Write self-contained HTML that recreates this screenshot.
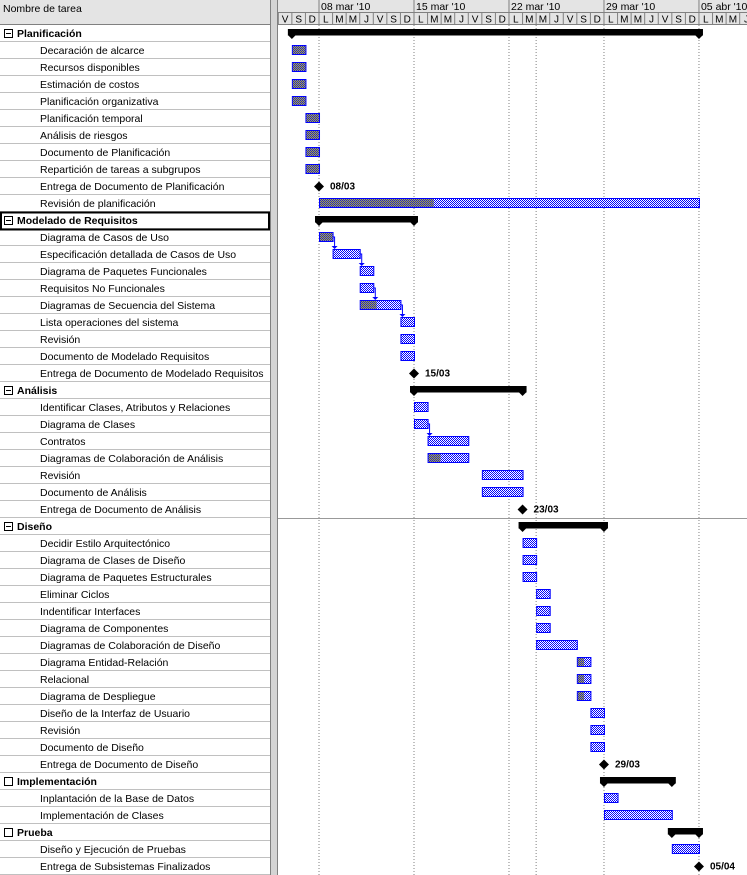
<!DOCTYPE html>
<html><head><meta charset="utf-8"><style>
html,body{margin:0;padding:0;background:#fff;}
svg{display:block;font-family:"Liberation Sans",sans-serif;}
</style></head><body>
<svg id="g" width="747" height="875" xmlns="http://www.w3.org/2000/svg">
<defs>
<pattern id="chk" width="2" height="2" patternUnits="userSpaceOnUse"><rect width="2" height="2" fill="#fff"/><rect width="1" height="1" fill="#0000ff"/><rect x="1" y="1" width="1" height="1" fill="#0000ff"/></pattern>
<pattern id="chkd" width="2" height="2" patternUnits="userSpaceOnUse"><rect width="2" height="2" fill="#909090"/><rect width="1" height="1" fill="#3030a0"/><rect x="1" y="1" width="1" height="1" fill="#505050"/></pattern>
</defs>
</svg>
<script>
const names=["Planificación","Decaración de alcarce","Recursos disponibles","Estimación de costos","Planificación organizativa","Planificación temporal","Análisis de riesgos","Documento de Planificación","Repartición de tareas a subgrupos","Entrega de Documento de Planificación","Revisión de planificación","Modelado de Requisitos","Diagrama de Casos de Uso","Especificación detallada de Casos de Uso","Diagrama de Paquetes Funcionales","Requisitos No Funcionales","Diagramas de Secuencia del Sistema","Lista operaciones del sistema","Revisión","Documento de Modelado Requisitos","Entrega de Documento de Modelado Requisitos","Análisis","Identificar Clases, Atributos y Relaciones","Diagrama de Clases","Contratos","Diagramas de Colaboración de Análisis","Revisión","Documento de Análisis","Entrega de Documento de Análisis","Diseño","Decidir Estilo Arquitectónico","Diagrama de Clases de Diseño","Diagrama de Paquetes Estructurales","Eliminar Ciclos","Indentificar Interfaces","Diagrama de Componentes","Diagramas de Colaboración de Diseño","Diagrama Entidad-Relación","Relacional","Diagrama de Despliegue","Diseño de la Interfaz de Usuario","Revisión","Documento de Diseño","Entrega de Documento de Diseño","Implementación","Inplantación de la Base de Datos","Implementación de Clases","Prueba","Diseño y Ejecución de Pruebas","Entrega de Subsistemas Finalizados"];
const types=["s","t","t","t","t","t","t","t","t","m","t","s","t","t","t","t","t","t","t","t","m","s","t","t","t","t","t","t","m","s","t","t","t","t","t","t","t","t","t","t","t","t","t","m","s","t","t","s","t","m"];
const starts=[1,1,1,1,1,2,2,2,2,3,3,3,3,4,6,6,6,9,9,9,10,10,10,10,11,11,15,15,18,18,18,18,18,19,19,19,19,22,22,22,23,23,23,24,24,24,24,29,29,31];
const ends=[31,2,2,2,2,3,3,3,3,3,31,10,4,6,7,7,9,10,10,10,10,18,11,11,14,14,18,18,18,24,19,19,19,20,20,20,22,23,23,23,24,24,24,24,29,25,29,31,31,31];
const progress=[0,1,1,1,1,1,1,1,1,0,0.3,0,1,0,0,0,0.4,0,0,0,0,0,0,0,0,0.3,0,0,0,0,0,0,0,0,0,0,0,0.5,0.5,0.5,0,0,0,0,0,0,0,0,0,0];
const links=[[12,13],[13,14],[15,16],[16,17],[23,24]];
const milestoneLabels={9:"08/03",20:"15/03",28:"23/03",43:"29/03",49:"05/04"};
const weekLabels=["08 mar '10","15 mar '10","22 mar '10","29 mar '10","05 abr '10"];
const dayLetters=["V","S","D","L","M","M","J"];

const NS="http://www.w3.org/2000/svg";
const svg=document.getElementById('g');
const X0=278.3, DW=13.57, H0=25, RH=17;
const xd=d=>X0+d*DW;
const rowTop=i=>H0+i*RH;
function el(tag,attrs,parent){const e=document.createElementNS(NS,tag);for(const k in attrs)e.setAttribute(k,attrs[k]);(parent||svg).appendChild(e);return e;}
function txt(x,y,s,attrs,parent){const e=el('text',Object.assign({x:x,y:y},attrs||{}),parent);e.textContent=s;return e;}

const hdr=el('g',{});


el('rect',{x:0,y:0,width:747,height:25,fill:'#e4e4e4'},hdr);
el('line',{x1:0,y1:24.5,x2:747,y2:24.5,stroke:'#808080'},hdr);
const nh=txt(3,12,"Nombre de tarea",{'font-size':10.5,fill:'#000'},hdr);


el('line',{x1:277,y1:12.5,x2:747,y2:12.5,stroke:'#808080'},hdr);
for(let d=0;d<35;d++){
  const x=xd(d);
  el('line',{x1:x,y1:12,x2:x,y2:25,stroke:'#808080'},hdr);
  const t=txt(x+DW/2,22.5,dayLetters[d%7],{'font-size':10,'text-anchor':'middle'},hdr);
  
  
}
weekLabels.forEach((w,i)=>{
  const d=3+7*i, x=xd(d);
  el('line',{x1:x,y1:0,x2:x,y2:12,stroke:'#808080'},hdr);
  const t=txt(x+2,10,w,{'font-size':10.5},hdr);
  
  
});
el('rect',{x:271,y:0,width:6,height:875,fill:'#d4d4d4'});
el('line',{x1:270.5,y1:0,x2:270.5,y2:875,stroke:'#808080'});
el('line',{x1:277.5,y1:0,x2:277.5,y2:875,stroke:'#808080'});

[3,10,17,19,24,31].forEach(d=>{
  const l=el('line',{x1:xd(d),y1:25,x2:xd(d),y2:875,stroke:'#808080','stroke-dasharray':'1,2'});
  
  
});
el('line',{x1:278,y1:518.5,x2:747,y2:518.5,stroke:'#999'});

names.forEach((n,i)=>{
  const y=rowTop(i);
  const g=el('g',{});
  
  
  el('line',{x1:0,y1:y+RH-0.5,x2:270,y2:y+RH-0.5,stroke:'#c0c0c0'},g);
  if(types[i]==='s'){
    const open=i<30;
    el('rect',{x:4.5,y:y+4.5,width:8,height:8,fill:'#fff',stroke:'#000'},g);
    if(open) el('line',{x1:6,y1:y+8.5,x2:11,y2:y+8.5,stroke:'#000'},g);
    txt(17,y+12,n,{'font-size':10.5,'font-weight':'bold'},g);
  } else {
    txt(40,y+12,n,{'font-size':10.5},g);
  }
});
el('rect',{x:1,y:rowTop(11)+0.5,width:268,height:17,fill:'none',stroke:'#000','stroke-width':2});

// dependency links
links.forEach(([a,b])=>{
  const xa=xd(ends[a]), ya=rowTop(a)+8, yb=rowTop(b)+3;
  const xm=xa+2;
  const p=el('path',{d:`M${xa},${ya} H${xm} V${yb-1}`,fill:'none',stroke:'#0000ff'});
  
  
  el('polygon',{points:`${xm-3},${yb-3} ${xm+3},${yb-3} ${xm},${yb}`,fill:'#0000ff'});
});

names.forEach((n,i)=>{
  const y=rowTop(i), x1=xd(starts[i]), x2=xd(ends[i]);
  if(types[i]==='t'){
    const r=el('rect',{x:x1+0.5,y:y+3.5,width:x2-x1,height:9,fill:'url(#chk)',stroke:'#0000ff'});
    
    
    if(progress[i]>0){
      el('rect',{x:x1+1,y:y+4,width:(x2-x1-1)*progress[i],height:8,fill:'url(#chkd)'});
    }
  } else if(types[i]==='s'){
    const g=el('g',{});
    
    
    el('rect',{x:x1-4,y:y+4,width:x2-x1+8,height:6.5,fill:'#000'},g);
    el('polygon',{points:`${x1-4},${y+10} ${x1+4},${y+10} ${x1},${y+14}`,fill:'#000'},g);
    el('polygon',{points:`${x2-4},${y+10} ${x2+4},${y+10} ${x2},${y+14}`,fill:'#000'},g);
  } else {
    const cy=y+8.5;
    const p=el('polygon',{points:`${x1},${cy-5} ${x1+5},${cy} ${x1},${cy+5} ${x1-5},${cy}`,fill:'#000'});
    
    
    const t=txt(x1+11,cy+3,milestoneLabels[i],{'font-size':10,'font-weight':'bold'});
    
    
  }
});
</script>
</body></html>
